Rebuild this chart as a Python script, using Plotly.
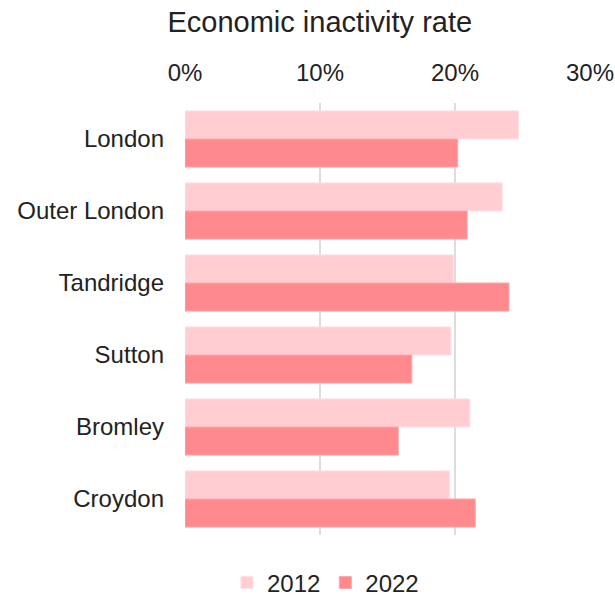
import plotly.graph_objects as go

categories = ["London", "Outer London", "Tandridge", "Sutton", "Bromley", "Croydon"]
values_2012 = [24.7, 23.5, 19.9, 19.7, 21.1, 19.6]
values_2022 = [20.2, 20.9, 24.0, 16.8, 15.8, 21.5]
tick_vals = [0, 10, 20, 30]
tick_text = ["0%", "10%", "20%", "30%"]

fig = go.Figure()
fig.add_trace(go.Bar(y=categories, x=values_2012, name="2012", orientation="h",
                     marker=dict(color="#ffcdd2", line=dict(color="#ffe0e3", width=1))))
fig.add_trace(go.Bar(y=categories, x=values_2022, name="2022", orientation="h",
                     marker=dict(color="#ff8a8e", line=dict(color="#ffa5a8", width=1))))

fig.update_layout(
    width=615, height=596,
    margin=dict(l=185, r=25, t=103, b=61),
    paper_bgcolor="white", plot_bgcolor="white",
    font=dict(family="Liberation Sans, Arial, sans-serif", color="#222222", size=24),
    title=dict(text="Economic inactivity rate", x=0.52, xanchor="center", y=0.963, yanchor="middle",
               font=dict(size=29, color="#222222")),
    barmode="group", bargap=0.22, bargroupgap=0,
    showlegend=True,
    legend=dict(orientation="h", xref="container", x=0.369, xanchor="left",
                yref="container", y=0.022, yanchor="middle",
                font=dict(size=24), traceorder="normal", itemwidth=30),
    xaxis=dict(side="top", range=[0, 30], tickvals=tick_vals, ticktext=tick_text,
               showgrid=True, gridcolor="#dddddd", gridwidth=2, zeroline=False,
               showline=False, ticks="", ticklabelstandoff=16, automargin=False),
    yaxis=dict(autorange="reversed", showgrid=False, zeroline=False, showline=False,
               ticks="", ticklabelstandoff=20, automargin=False),
)
fig.write_html("out.html")
